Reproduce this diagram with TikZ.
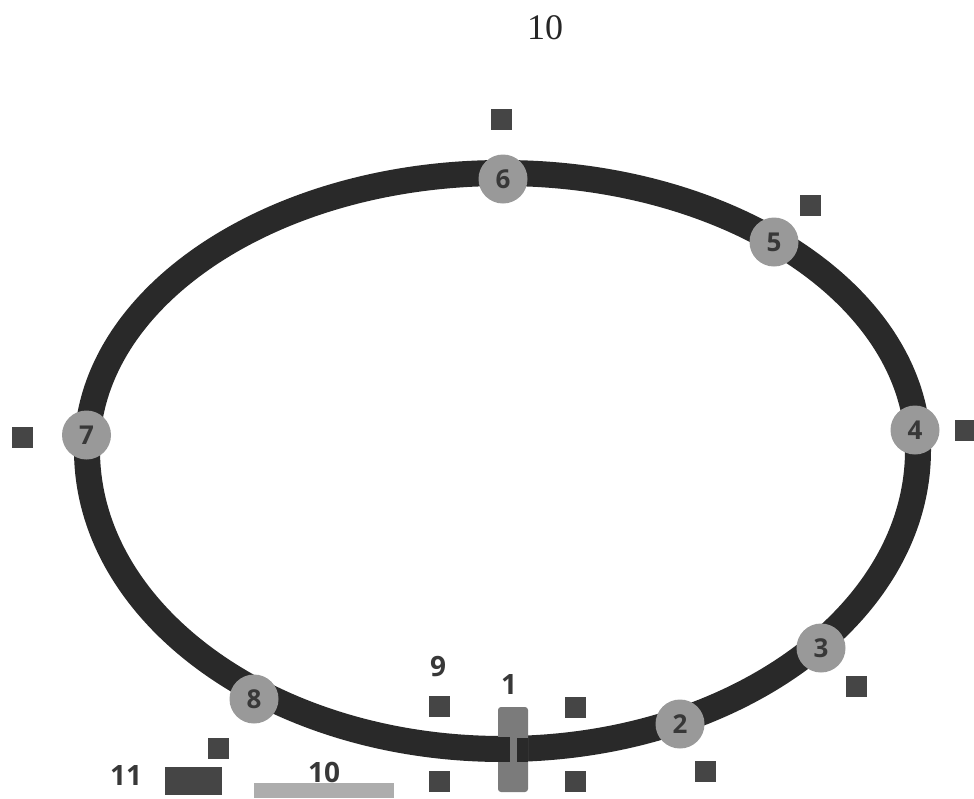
\documentclass[tikz,border=0pt]{standalone}
\usepackage{fontspec}
\setmainfont{Liberation Serif}
\newfontfamily\labelfont{Open Sans}
\definecolor{ringc}{gray}{0.16}
\definecolor{discc}{gray}{0.60}
\definecolor{sqc}{gray}{0.27}
\definecolor{labc}{gray}{0.22}
\tikzset{
  disc/.style={circle,fill=discc,draw=none,minimum size=49pt,inner sep=0pt,text=labc,font=\labelfont\bfseries\fontsize{26}{26}\selectfont},
  sq/.style={rectangle,fill=sqc,draw=none,minimum size=21pt,inner sep=0pt},
  lab/.style={text=labc,inner sep=0pt,font=\labelfont\bfseries\fontsize{28}{28}\selectfont},
}
\begin{document}
\begin{tikzpicture}[x=1pt,y=-1pt]
\useasboundingbox (0,0) rectangle (974,798);
\node[font=\fontsize{36}{36}\selectfont,text=black!85,inner sep=0pt] (pg) at (545,28) {10};
\draw[ringc,line width=26pt] (87,450) .. controls (87,297) and (273,173) .. (502.5,173) .. controls (732,173) and (918,297) .. (918,450) .. controls (918,615.1) and (732,749) .. (502.5,749) .. controls (273,749) and (87,615.1) .. (87,450) -- cycle;
\node[disc] (d2) at (680,724) {2};
\node[disc] (d3) at (821,648) {3};
\node[disc] (d4) at (915,430) {4};
\node[disc] (d5) at (774,242) {5};
\node[disc] (d6) at (503,179) {6};
\node[disc] (d7) at (86.5,435) {7};
\node[disc] (d8) at (254,699) {8};
\node[sq] (s6) at (501,119) {};
\node[sq] (s5) at (810,205) {};
\node[sq] (s4) at (965,430) {};
\node[sq] (s3) at (856,686) {};
\node[sq] (s2) at (705,771) {};
\node[sq] (s1a) at (575,707) {};
\node[sq] (s1b) at (575,781) {};
\node[sq] (s9a) at (439,706) {};
\node[sq] (s9b) at (439,781) {};
\node[sq] (s8) at (218,748) {};
\node[sq] (s7) at (22,437) {};
\fill[gray!62!black!75,rounded corners=3pt] (498,707) rectangle (528,792);
\fill[ringc] (498,737) rectangle (510,762);
\fill[ringc] (517,738) rectangle (528,762);
\fill[sqc] (165,767) rectangle (222,795);
\fill[black!32] (254,783) rectangle (394,798);
\node[lab] (l1) at (509,684) {1};
\node[lab] (l9) at (438,667) {9};
\node[lab] (l10) at (324,772) {10};
\node[lab] (l11) at (126,775) {11};
\end{tikzpicture}
\end{document}
